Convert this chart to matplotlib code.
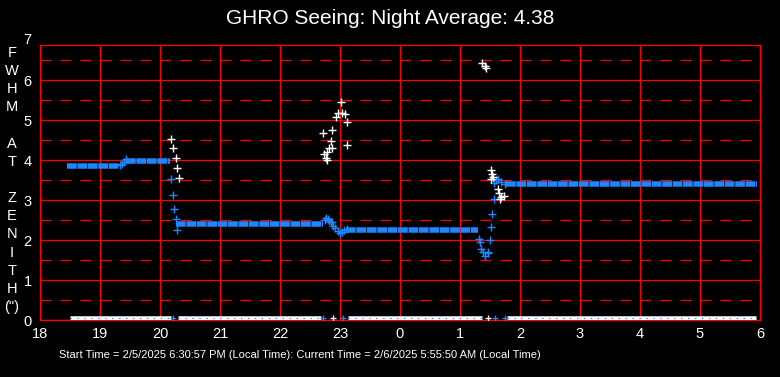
import numpy as np
from matplotlib import pyplot as plt

plt.rcParams['font.family'] = ['Liberation Sans', 'DejaVu Sans']
plt.rcParams['lines.scale_dashes'] = False

# hours after midnight of the start day (24 = 0 next day)
hour_ticks = list(range(18, 31))
hour_labels = [str(h % 24) for h in hour_ticks]

# flat runs of the blue (averaged) seeing series
blue_run_start = [18.45, 19.43, 20.27, 23.10, 25.76]
blue_run_end = [19.32, 20.17, 22.72, 25.30, 29.95]
blue_run_val = [3.85, 3.97, 2.39, 2.25, 3.39]

# blue points in the transitions
blue_t = [19.34, 19.37, 19.40, 19.43,
          20.18, 20.22, 20.24, 20.26, 20.28,
          22.75, 22.77, 22.80, 22.82, 22.85, 22.87, 22.88, 22.92, 22.96, 23.00, 23.03, 23.07, 23.11,
          25.32, 25.34, 25.35, 25.39, 25.41, 25.46, 25.47, 25.50,
          25.52, 25.54, 25.56, 25.57, 25.60, 25.64, 25.69, 25.75]
blue_v = [3.87, 3.90, 3.94, 4.02,
          3.52, 3.12, 2.77, 2.52, 2.24,
          2.50, 2.56, 2.52, 2.48, 2.44, 2.46, 2.36, 2.31, 2.22, 2.17, 2.19, 2.24, 2.27,
          2.02, 1.96, 1.77, 1.71, 1.60, 1.67, 1.70, 2.00,
          2.33, 2.65, 3.03, 3.43, 3.50, 3.52, 3.44, 3.39]

# white (raw) seeing measurements
white_t = [20.18, 20.22, 20.26, 20.29, 20.31,
           22.71, 22.74, 22.76, 22.78, 22.78, 22.81, 22.85, 22.86, 22.87, 22.94, 22.97,
           23.01, 23.04, 23.08, 23.11, 23.12,
           25.37, 25.41, 25.43,
           25.51, 25.52, 25.54, 25.55, 25.63, 25.65, 25.67, 25.69, 25.73]
white_v = [4.52, 4.29, 4.04, 3.79, 3.54,
           4.67, 4.15, 4.04, 4.19, 4.00, 4.29, 4.47, 4.74, 4.30, 5.08, 5.18,
           5.46, 5.17, 5.14, 4.94, 4.37,
           6.42, 6.35, 6.31,
           3.52, 3.75, 3.65, 3.57, 3.27, 3.18, 3.02, 3.08, 3.11]

# runs of zero readings along the bottom
zero_start = [18.50, 20.30, 23.13, 25.78]
zero_end = [20.19, 22.69, 25.36, 29.94]
zero_single_white = [22.88, 25.47]
zero_single_blue = [20.22, 22.71, 23.05, 25.58, 25.75]

title = "GHRO Seeing: Night Average: 4.38"
ylabel_chars = ["F", "W", "H", "M", "", "A", "T", "", "Z", "E", "N", "I", "T", "H", "(\")"]
footer = ("Start Time = 2/5/2025 6:30:57 PM (Local Time): "
          "Current Time = 2/6/2025 5:55:50 AM (Local Time)")

red = '#ff0000'
blue = '#1f86ff'
px = 0.72  # one pixel in points at 100 dpi

fig = plt.figure(figsize=(7.8, 3.77), dpi=100, facecolor='black')
ax = fig.add_axes([40 / 780, 57 / 377, 720 / 780, 275 / 377], facecolor='black')
ax.set_xlim(18, 30)
ax.set_ylim(0, 6.875)

# grid
for y in range(0, 7):
    ax.axhline(y, color=red, lw=1.3 * px, zorder=1)
for y in np.arange(0.5, 7, 1.0):
    ax.axhline(y, color=red, lw=1.3 * px, dashes=(8.0, 6.4), zorder=1)
for h in hour_ticks:
    ax.axvline(h, color=red, lw=1.3 * px, zorder=1)
for s in ax.spines.values():
    s.set_color(red)
    s.set_linewidth(1.3 * px)

# zero row
ax.hlines([0.045] * len(zero_start), zero_start, zero_end, color='white', lw=4.5 * px, zorder=3)
ax.hlines([0.045] * len(zero_start), zero_start, zero_end, color=blue, lw=1.2 * px,
          linestyles=[(0, (1.0, 4.0))], zorder=4)
ax.plot(zero_single_white, [0.045] * len(zero_single_white), '+', color='white',
        ms=5, mew=1.3 * px, zorder=4)
ax.plot(zero_single_blue, [0.045] * len(zero_single_blue), '+', color=blue,
        ms=5, mew=1.3 * px, zorder=4)

# blue series
ax.hlines(blue_run_val, blue_run_start, blue_run_end, color=blue, lw=5.5 * px,
          linestyles=[(0, (7.0, 0.5))], zorder=3)
ax.plot(blue_t, blue_v, '+', color=blue, ms=5.5, mew=1.4 * px, zorder=3)

# white series
ax.plot(white_t, white_v, '+', color='white', ms=5.5, mew=1.4 * px, zorder=4)

ax.set_xticks(hour_ticks)
ax.set_xticklabels(hour_labels)
ax.set_yticks(range(0, 7))
ax.tick_params(colors='white', labelsize=10.5, length=0, pad=5)
ax.tick_params(axis='y', pad=6)
ax.text(-0.012, 7, '7', color='white', fontsize=10.5, ha='right', va='center',
        transform=ax.get_yaxis_transform(), clip_on=False)

fig.text(390 / 780, 1 - 19 / 377, title, color='white', fontsize=15,
         ha='center', va='center')
for i, ch in enumerate(ylabel_chars):
    fig.text(12 / 780, 1 - (53 + i * 18.14) / 377, ch, color='white',
             fontsize=10.5, ha='center', va='center')
fig.text(59 / 780, 1 - 355 / 377, footer, color='white', fontsize=8,
         ha='left', va='center')

fig.savefig('out.png', dpi=100, facecolor='black')
